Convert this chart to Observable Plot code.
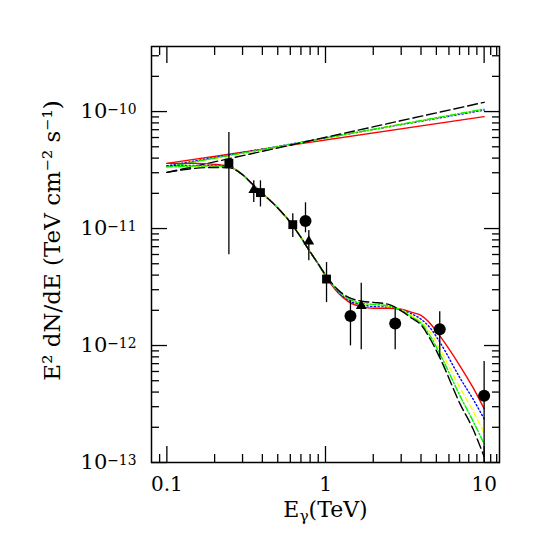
<!DOCTYPE html>
<html>
<head>
<meta charset="utf-8">
<script src="https://cdn.jsdelivr.net/npm/d3@7"></script>
<script src="https://cdn.jsdelivr.net/npm/@observablehq/plot@0.6"></script>
<style>
  html, body { margin: 0; padding: 0; background: #fff; }
</style>
</head>
<body>
<div id="chart"></div>
<script>
// ---------- data ----------
const energyGrid = [0.1, 0.125, 0.15, 0.2, 0.25, 0.3, 0.35, 0.4, 0.5, 0.6, 0.7, 0.8, 0.9, 1.0, 1.2, 1.4, 1.7, 2.0, 2.5, 3.0, 3.5, 4.0, 4.6, 5.3, 7.1, 8.5, 10];

const redLow    = [3.61e-11, 3.61e-11, 3.61e-11, 3.54e-11, 3.37e-11, 2.90e-11, 2.37e-11, 2.00e-11, 1.50e-11, 1.13e-11, 8.41e-12, 6.32e-12, 4.99e-12, 3.94e-12, 2.82e-12, 2.36e-12, 2.14e-12, 2.08e-12, 2.08e-12, 2.04e-12, 1.92e-12, 1.81e-12, 1.53e-12, 1.19e-12, 6.57e-13, 4.38e-13, 2.88e-13];
const blueLow   = [3.43e-11, 3.47e-11, 3.47e-11, 3.47e-11, 3.35e-11, 2.89e-11, 2.36e-11, 2.00e-11, 1.50e-11, 1.13e-11, 8.41e-12, 6.32e-12, 4.99e-12, 3.98e-12, 2.88e-12, 2.43e-12, 2.23e-12, 2.16e-12, 2.14e-12, 2.02e-12, 1.86e-12, 1.68e-12, 1.40e-12, 1.05e-12, 5.19e-13, 3.50e-13, 2.36e-13];
const yellowLow = [3.33e-11, 3.37e-11, 3.40e-11, 3.40e-11, 3.33e-11, 2.89e-11, 2.36e-11, 2.00e-11, 1.50e-11, 1.13e-11, 8.41e-12, 6.32e-12, 4.99e-12, 4.00e-12, 2.93e-12, 2.51e-12, 2.27e-12, 2.21e-12, 2.16e-12, 2.02e-12, 1.80e-12, 1.60e-12, 1.29e-12, 9.19e-13, 4.27e-13, 2.77e-13, 1.79e-13];
const greenLow  = [3.37e-11, 3.40e-11, 3.43e-11, 3.43e-11, 3.33e-11, 2.89e-11, 2.36e-11, 2.00e-11, 1.50e-11, 1.13e-11, 8.41e-12, 6.32e-12, 4.99e-12, 4.00e-12, 2.93e-12, 2.51e-12, 2.29e-12, 2.25e-12, 2.18e-12, 2.00e-12, 1.75e-12, 1.55e-12, 1.19e-12, 8.33e-13, 3.64e-13, 2.27e-13, 1.44e-13];
const blackLow  = [3.02e-11, 3.17e-11, 3.27e-11, 3.33e-11, 3.30e-11, 2.88e-11, 2.36e-11, 2.00e-11, 1.50e-11, 1.13e-11, 8.41e-12, 6.32e-12, 4.99e-12, 4.02e-12, 2.99e-12, 2.58e-12, 2.39e-12, 2.34e-12, 2.25e-12, 1.98e-12, 1.71e-12, 1.50e-12, 1.12e-12, 7.69e-13, 3.11e-13, 1.94e-13, 1.12e-13];

// unabsorbed power laws: values at the two ends
const upperEnergy = [0.1, 10];
const redUp    = [3.61e-11, 9.06e-11];
const blueUp   = [3.43e-11, 1.03e-10];
const yellowUp = [3.33e-11, 1.05e-10];
const greenUp  = [3.37e-11, 1.05e-10];
const blackUp  = [3.02e-11, 1.20e-10];

// measurements
const squareE  = [0.246, 0.389, 0.622, 1.015];
const squareF  = [3.62e-11, 2.03e-11, 1.08e-11, 3.70e-12];
const squareLo = [5.96e-12, 1.53e-11, 8.38e-12, 2.33e-12];
const squareHi = [6.62e-11, 2.56e-11, 1.34e-11, 5.12e-12];

const triE  = [0.353, 0.785, 1.68];
const triF  = [2.14e-11, 7.77e-12, 2.18e-12];
const triLo = [1.67e-11, 5.30e-12, 9.18e-13];
const triHi = [2.56e-11, 9.60e-12, 3.41e-12];

const circE  = [0.748, 1.437, 2.75, 5.25, 10.0];
const circF  = [1.16e-11, 1.79e-12, 1.54e-12, 1.38e-12, 3.72e-13];
const circLo = [9.2e-12, 9.93e-13, 9.18e-13, 7.88e-13, 1.0e-13];
const circHi = [1.66e-11, 2.41e-12, 2.06e-12, 1.94e-12, 7.29e-13];

// ticks
const xMajorTicks = [0.1, 1, 10];
const xMinorTicks = [0.09, 0.2, 0.3, 0.4, 0.5, 0.6, 0.7, 0.8, 0.9, 2, 3, 4, 5, 6, 7, 8, 9, 11, 12];
const yMajorTicks = [1e-13, 1e-12, 1e-11, 1e-10];
const yMinorTicks = [2e-13, 3e-13, 4e-13, 5e-13, 6e-13, 7e-13, 8e-13, 9e-13,
                     2e-12, 3e-12, 4e-12, 5e-12, 6e-12, 7e-12, 8e-12, 9e-12,
                     2e-11, 3e-11, 4e-11, 5e-11, 6e-11, 7e-11, 8e-11, 9e-11,
                     2e-10, 3e-10];

const xTitle = "E|γ|(TeV)";
const yTitle = "E² dN/dE (TeV cm⁻² s⁻¹)";

// ---------- build tables ----------
const lowSeries = [
  {name: "red", values: redLow}, {name: "blue", values: blueLow},
  {name: "yellow", values: yellowLow}, {name: "green", values: greenLow},
  {name: "black", values: blackLow}
];
const upSeries = [
  {name: "red", values: redUp}, {name: "blue", values: blueUp},
  {name: "yellow", values: yellowUp}, {name: "green", values: greenUp},
  {name: "black", values: blackUp}
];
const styleOf = {
  red:    {stroke: "#ff0000", dash: null},
  blue:   {stroke: "#0000ff", dash: "1.3,2.4"},
  yellow: {stroke: "#ffff00", dash: "5,3.5"},
  green:  {stroke: "#00f000", dash: "6,2,1.5,2"},
  black:  {stroke: "#000000", dash: "10,4"}
};
const table = (E, F, lo, hi) => E.map((e, i) => ({E: e, F: F[i], lo: lo ? lo[i] : undefined, hi: hi ? hi[i] : undefined}));
const squares = table(squareE, squareF, squareLo, squareHi);
const triangles = table(triE, triF, triLo, triHi);
const circles = table(circE, circF, circLo, circHi);
const allPoints = [...squares, ...triangles, ...circles];

const lineMarks = [];
for (const s of upSeries) {
  const st = styleOf[s.name];
  lineMarks.push(Plot.line(table(upperEnergy, s.values), {x: "E", y: "F", stroke: st.stroke, strokeWidth: 1.4, strokeDasharray: st.dash}));
}
for (const s of lowSeries) {
  const st = styleOf[s.name];
  lineMarks.push(Plot.line(table(energyGrid, s.values), {x: "E", y: "F", stroke: st.stroke, strokeWidth: 1.4, strokeDasharray: st.dash, curve: "monotone-x"}));
}

const chart = Plot.plot({
  width: 545,
  height: 545,
  marginLeft: 151,
  marginRight: 46,
  marginTop: 46,
  marginBottom: 83,
  style: {fontFamily: "DejaVu Serif", fontSize: "20px", background: "#fff", color: "#000"},
  x: {type: "log", domain: [0.08, 12.5]},
  y: {type: "log", domain: [1e-13, 3.6e-10]},
  marks: [
    ...lineMarks,
    Plot.ruleX(allPoints, {x: "E", y1: "lo", y2: "hi", stroke: "#000", strokeWidth: 1.3}),
    Plot.dot(squares, {x: "E", y: "F", symbol: "square", r: 5, fill: "#000"}),
    Plot.dot(triangles, {x: "E", y: "F", symbol: "triangle", r: 4, fill: "#000"}),
    Plot.dot(circles, {x: "E", y: "F", r: 6, fill: "#000"}),
    Plot.frame({stroke: "#000", strokeWidth: 1.5}),
    // inward ticks on all sides
    Plot.axisX(xMajorTicks, {anchor: "bottom", tickSize: -16, fill: "none", label: null, strokeWidth: 1.3}),
    Plot.axisX(xMinorTicks, {anchor: "bottom", tickSize: -8, fill: "none", label: null, strokeWidth: 1.3}),
    Plot.axisX(xMajorTicks, {anchor: "top", tickSize: -16, fill: "none", label: null, strokeWidth: 1.3}),
    Plot.axisX(xMinorTicks, {anchor: "top", tickSize: -8, fill: "none", label: null, strokeWidth: 1.3}),
    Plot.axisY(yMajorTicks, {anchor: "left", tickSize: -16, fill: "none", label: null, strokeWidth: 1.3}),
    Plot.axisY(yMinorTicks, {anchor: "left", tickSize: -8, fill: "none", label: null, strokeWidth: 1.3}),
    Plot.axisY(yMajorTicks, {anchor: "right", tickSize: -16, fill: "none", label: null, strokeWidth: 1.3}),
    Plot.axisY(yMinorTicks, {anchor: "right", tickSize: -8, fill: "none", label: null, strokeWidth: 1.3}),
    // tick labels
    Plot.axisX(xMajorTicks, {anchor: "bottom", tickSize: 0, tickPadding: 14, fontSize: 20, tickFormat: d => String(d), label: null}),
    Plot.axisY(yMajorTicks, {anchor: "left", tickSize: 0, tickPadding: 15, fontSize: 21, tickFormat: d => "10^−" + Math.round(-Math.log10(d)), label: null}),
    // titles
    Plot.text([xTitle], {frameAnchor: "bottom", textAnchor: "middle", dy: 54, fontSize: 22}),
    Plot.text([yTitle], {frameAnchor: "left", textAnchor: "middle", rotate: -90, dx: -99, dy: -14, fontSize: 23})
  ]
});
document.getElementById("chart").appendChild(chart);

// superscripts / subscripts as real text
const NS = "http://www.w3.org/2000/svg";
chart.querySelectorAll("text").forEach(t => {
  const s = t.textContent;
  if (s.includes("^")) {
    const [base, exp] = s.split("^");
    t.textContent = base;
    const ts = document.createElementNS(NS, "tspan");
    ts.setAttribute("dy", "-0.34em");
    ts.setAttribute("font-size", "0.66em");
    ts.textContent = exp;
    t.appendChild(ts);
  } else if (s.includes("|")) {
    const [a, b, c] = s.split("|");
    t.textContent = a;
    const sub = document.createElementNS(NS, "tspan");
    sub.setAttribute("dy", "0.3em");
    sub.setAttribute("font-size", "0.7em");
    sub.textContent = b;
    const rest = document.createElementNS(NS, "tspan");
    rest.setAttribute("dy", "-0.21em");
    rest.textContent = c;
    t.appendChild(sub);
    t.appendChild(rest);
  }
});
</script>
</body>
</html>
